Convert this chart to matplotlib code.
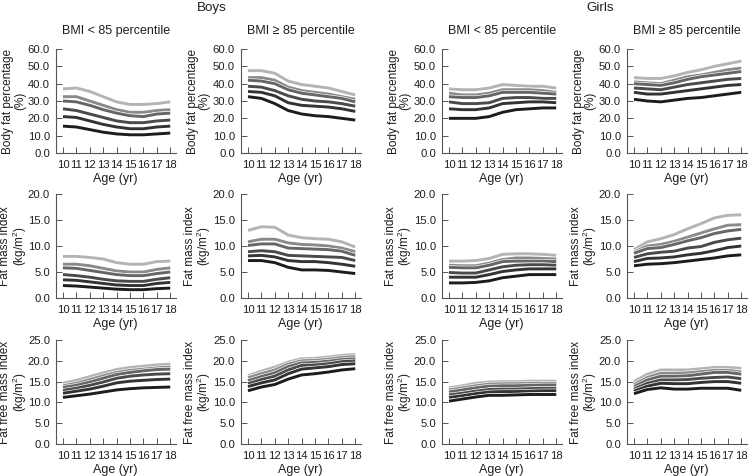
import matplotlib
matplotlib.use("Agg")
import matplotlib.pyplot as plt
import matplotlib.patheffects as pe
from matplotlib import font_manager

names = {f.name for f in font_manager.fontManager.ttflist}
FONT = "Liberation Sans Narrow" if "Liberation Sans Narrow" in names else "Liberation Sans"
plt.rcParams['font.family'] = [FONT, 'DejaVu Sans']

ages = [10, 11, 12, 13, 14, 15, 16, 17, 18]
age_ticks = [10, 11, 12, 13, 14, 15, 16, 17, 18]

# Body fat percentage
boys_low_bf = [
    [37, 37.5, 35.5, 32.5, 29.5, 28, 28, 28.5, 29.5],
    [32.5, 32.5, 30, 27.5, 25, 23.5, 23.5, 24.5, 25],
    [30, 29.5, 27.5, 25, 23, 21.5, 21, 22.5, 23],
    [25.5, 24.5, 22.5, 20.5, 18.5, 17.5, 17.5, 18.5, 19],
    [21, 20.5, 18.5, 16.5, 15, 14, 14, 15, 15.5],
    [15.5, 15, 13.5, 12, 11, 10.5, 10.5, 11, 11.5],
]
boys_high_bf = [
    [47.5, 47.5, 46, 41.5, 39.5, 38.5, 37.5, 35.5, 33.5],
    [43.5, 43.5, 42, 38, 36, 35, 34, 32.5, 31],
    [42, 41.5, 40, 36.5, 34.5, 33.5, 32.5, 31.5, 29.5],
    [38.5, 38, 36, 33, 31, 30, 29.5, 28.5, 27],
    [35.5, 35, 33, 29, 27.5, 27, 26.5, 25.5, 24],
    [32.5, 31.5, 28.5, 24.5, 22.5, 21.5, 21, 20, 19],
]
girls_low_bf = [
    [37, 36.5, 36.5, 37.5, 39.5, 39, 38.5, 38.5, 37.5],
    [34.5, 33.5, 33.5, 34.5, 36.5, 36.5, 36.5, 36, 35],
    [32.5, 32, 32, 33, 35, 35, 35, 34.5, 34],
    [29.5, 28.5, 28.5, 29, 31.5, 32, 32, 31.5, 31.5],
    [25.5, 25, 25, 26, 28.5, 29, 29.5, 29.5, 29],
    [20, 20, 20, 21, 23.5, 25, 25.5, 26, 26],
]
girls_high_bf = [
    [43.5, 43, 43, 44.5, 46.5, 48, 50, 51.5, 53],
    [41, 40.5, 40, 42, 44, 45, 46.5, 48, 49],
    [40, 39.5, 39, 40.5, 42.5, 44, 45, 46, 47],
    [37.5, 37, 36.5, 38, 39.5, 40.5, 41.5, 42.5, 43],
    [35, 34, 34, 35, 36, 37, 38, 39, 39.5],
    [31, 30, 29.5, 30.5, 31.5, 32, 33, 34, 35],
]

# Fat mass index
boys_low_fmi = [
    [8, 8, 7.8, 7.5, 6.8, 6.5, 6.5, 7, 7.1],
    [6.5, 6.5, 6.2, 5.7, 5.2, 5, 5, 5.5, 5.8],
    [5.8, 5.7, 5.3, 4.9, 4.5, 4.3, 4.3, 4.7, 5.0],
    [4.5, 4.3, 4, 3.6, 3.3, 3.2, 3.2, 3.6, 3.9],
    [3.5, 3.4, 3.1, 2.8, 2.5, 2.4, 2.4, 2.8, 3.0],
    [2.4, 2.3, 2.1, 1.9, 1.7, 1.6, 1.6, 1.8, 1.9],
]
boys_high_fmi = [
    [13, 13.7, 13.6, 12.1, 11.6, 11.4, 11.3, 10.8, 9.8],
    [10.8, 11.3, 11.3, 10.6, 10.3, 10.2, 10.0, 9.6, 8.9],
    [10.1, 10.4, 10.4, 9.6, 9.5, 9.4, 9.3, 9.0, 8.2],
    [8.9, 9.1, 8.9, 8.2, 8.1, 8.0, 7.9, 7.8, 7.2],
    [8.1, 8.2, 7.9, 7.2, 7.0, 7.0, 6.8, 6.5, 6.1],
    [7.2, 7.2, 6.8, 5.9, 5.4, 5.4, 5.3, 5.0, 4.7],
]
girls_low_fmi = [
    [7.1, 7.1, 7.2, 7.6, 8.4, 8.5, 8.5, 8.4, 8.2],
    [6.3, 6.2, 6.2, 6.7, 7.4, 7.7, 7.7, 7.6, 7.5],
    [5.9, 5.8, 5.8, 6.3, 7.0, 7.1, 7.1, 7.1, 7.0],
    [4.9, 4.8, 4.8, 5.4, 6.0, 6.3, 6.4, 6.4, 6.3],
    [4.0, 4.0, 4.0, 4.5, 5.1, 5.4, 5.6, 5.6, 5.6],
    [2.9, 2.9, 3.0, 3.3, 3.9, 4.2, 4.5, 4.5, 4.5],
]
girls_high_fmi = [
    [9.3, 10.8, 11.4, 12.2, 13.3, 14.3, 15.4, 15.9, 16.0],
    [8.8, 10.0, 10.3, 10.9, 11.7, 12.5, 13.3, 14.0, 14.1],
    [8.6, 9.5, 9.7, 10.3, 11.0, 11.6, 12.4, 12.9, 13.2],
    [7.8, 8.5, 8.8, 9.0, 9.6, 9.9, 10.7, 11.2, 11.5],
    [7.0, 7.6, 7.7, 7.9, 8.3, 8.6, 9.1, 9.7, 10.0],
    [6.2, 6.5, 6.6, 6.8, 7.1, 7.4, 7.7, 8.1, 8.3],
]

# Fat free mass index
boys_low_ffmi = [
    [14.6, 15.3, 16.2, 17.1, 17.9, 18.4, 18.7, 19.0, 19.2],
    [14.0, 14.6, 15.5, 16.4, 17.2, 17.7, 18.0, 18.3, 18.5],
    [13.6, 14.1, 14.9, 15.8, 16.7, 17.2, 17.6, 17.9, 18.0],
    [12.9, 13.4, 14.1, 14.9, 15.8, 16.3, 16.6, 16.8, 16.9],
    [12.2, 12.7, 13.2, 13.9, 14.7, 15.1, 15.3, 15.5, 15.6],
    [11.2, 11.6, 12.0, 12.5, 13.0, 13.3, 13.5, 13.6, 13.7],
]
boys_high_ffmi = [
    [16.4, 17.5, 18.5, 19.7, 20.5, 20.6, 20.9, 21.3, 21.5],
    [15.9, 16.9, 17.8, 19.2, 20.0, 20.1, 20.4, 20.8, 21.0],
    [15.2, 16.2, 17.1, 18.6, 19.5, 19.6, 19.9, 20.3, 20.5],
    [14.5, 15.5, 16.3, 17.8, 18.9, 19.0, 19.3, 19.8, 20.0],
    [13.8, 14.7, 15.4, 16.9, 18.0, 18.3, 18.6, 19.1, 19.3],
    [12.8, 13.7, 14.3, 15.6, 16.6, 16.9, 17.3, 17.8, 18.1],
]
girls_low_ffmi = [
    [13.5, 14.0, 14.6, 14.9, 15.0, 15.0, 15.1, 15.1, 15.1],
    [13.0, 13.5, 14.0, 14.4, 14.5, 14.5, 14.6, 14.6, 14.6],
    [12.5, 13.0, 13.5, 13.9, 14.0, 14.0, 14.1, 14.2, 14.2],
    [11.8, 12.2, 12.7, 13.1, 13.2, 13.2, 13.3, 13.4, 13.4],
    [11.2, 11.6, 12.1, 12.5, 12.6, 12.6, 12.7, 12.8, 12.8],
    [10.3, 10.8, 11.3, 11.7, 11.7, 11.8, 11.9, 11.9, 11.9],
]
girls_high_ffmi = [
    [15.0, 16.8, 17.8, 17.8, 17.8, 18.1, 18.4, 18.4, 18.2],
    [14.3, 16.0, 17.0, 17.0, 17.1, 17.4, 17.7, 17.7, 17.3],
    [13.8, 15.4, 16.3, 16.3, 16.4, 16.8, 17.2, 17.2, 16.8],
    [13.2, 14.6, 15.4, 15.4, 15.5, 15.8, 16.0, 16.1, 15.7],
    [12.7, 13.9, 14.6, 14.5, 14.5, 14.8, 15.0, 15.0, 14.6],
    [12.1, 13.1, 13.5, 13.2, 13.2, 13.4, 13.4, 13.4, 12.9],
]

row_data = [
    [boys_low_bf, boys_high_bf, girls_low_bf, girls_high_bf],
    [boys_low_fmi, boys_high_fmi, girls_low_fmi, girls_high_fmi],
    [boys_low_ffmi, boys_high_ffmi, girls_low_ffmi, girls_high_ffmi],
]
row_ylabels = ["Body fat percentage\n(%)", "Fat mass index\n(kg/m$^2$)", "Fat free mass index\n(kg/m$^2$)"]
row_ymax = [60, 20, 25]
row_ystep = [10, 5, 5]
col_titles = ["BMI < 85 percentile", "BMI \u2265 85 percentile", "BMI < 85 percentile", "BMI \u2265 85 percentile"]
group_titles = ["Boys", "Girls"]
line_colors = ["#b4b4b4", "#8a8a8a", "#666666", "#4a4a4a", "#333333", "#1c1c1c"]

W, H = 751, 476
fig = plt.figure(figsize=(W / 100, H / 100), dpi=100)

col_left = [55.6, 240.6, 441.6, 626.6]
label_off = [41.5, 42, 42, 42]
ax_w = 120
row_top = [49, 194, 340]
ax_h = 104

TC = "#1e1e1e"
plt.rcParams['mathtext.fontset'] = 'custom'
plt.rcParams['mathtext.rm'] = FONT
for r in range(3):
    for c in range(4):
        ax = fig.add_axes([col_left[c] / W, 1 - (row_top[r] + ax_h) / H, ax_w / W, ax_h / H])
        for i, series in enumerate(row_data[r][c]):
            ax.plot(ages, series, color=line_colors[i], lw=2.1, solid_capstyle='butt',
                    path_effects=[pe.Stroke(linewidth=3.0, foreground='white'), pe.Normal()],
                    zorder=3 + i)
        ax.set_xlim(9.45, 18.4)
        ax.set_ylim(0, row_ymax[r])
        yt = list(range(0, row_ymax[r] + 1, row_ystep[r]))
        ax.set_yticks(yt)
        ax.set_yticklabels([f"{v:.1f}" for v in yt])
        ax.set_xticks(age_ticks)
        ax.set_xticklabels([str(a) for a in age_ticks])
        for s in ["top", "right"]:
            ax.spines[s].set_visible(False)
        for s in ["left", "bottom"]:
            ax.spines[s].set_color("#555555")
            ax.spines[s].set_linewidth(0.8)
        ax.tick_params(direction="in", length=4, width=0.7, color="#555555",
                       labelsize=8.1, labelcolor=TC, pad=4)
        ax.tick_params(axis="x", pad=5)
        ax.set_ylabel(row_ylabels[r], fontsize=8.5, color=TC, linespacing=0.95, va="center")
        ax.yaxis.set_label_coords(-label_off[c] / ax_w, 0.5)
        ax.set_xlabel("Age (yr)", fontsize=9, color=TC, va="center")
        ax.xaxis.set_label_coords(0.5, -26 / ax_h)
        if r == 0:
            ax.set_title(col_titles[c], fontsize=9, color=TC, pad=11)

fig.text(212 / W, 1 - 8 / H, group_titles[0], ha="center", va="center", fontsize=9.6, color=TC)
fig.text(600 / W, 1 - 8 / H, group_titles[1], ha="center", va="center", fontsize=9.6, color=TC)

fig.savefig("out.png", dpi=100)
